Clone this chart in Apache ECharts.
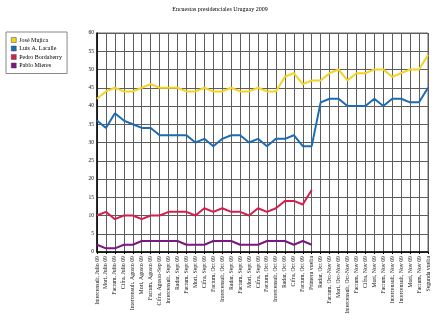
<!DOCTYPE html>
<html><head><meta charset="utf-8">
<script src="https://cdn.jsdelivr.net/npm/echarts@6/dist/echarts.min.js"></script>
<style>html,body{margin:0;padding:0;background:#fff}#c{width:440px;height:323px}</style>
</head><body><div id="c"></div>
<script>
const categories = [
"Intercensult, Julio 09","Mori, Julio 09","Factum, Julio 09","Cifra, Julio 09",
"Intercensult, Agosto 09","Mori, Agosto 09","Factum, Agosto 09","Cifra, Agosto-Sep 09",
"Intercensult, Sept 09","Radar, Sept 09","Factum, Sept 09","Mori, Sept 09","Cifra, Sept 09",
"Factum, Oct 09","Intercensult, Oct 09","Radar, Sept 09","Factum, Sept 09","Mori, Sept 09",
"Cifra, Sept 09","Factum, Oct 09","Intercensult, Oct 09","Radar, Oct 09","Cifra, Oct 09",
"Factum, Oct 09","Primera vuelta","Radar, Oct 09","Factum, Oct-Nov 09","Mori, Oct-Nov 09",
"Intercensult, Oct-Nov 09","Factum, Nov 09","Cifra, Nov 09","Mori, Nov 09","Factum, Nov 09",
"Intercensult, Nov 09","Intercensult, Nov 09","Mori, Nov 09","Factum, Nov 09","Segunda vuelta"
];
const seriesNames = ["José Mujica","Luis A. Lacalle","Pedro Bordaberry","Pablo Mieres"];
const mujica = [42,44,45,44,44,45,46,45,45,45,44,44,45,44,44,45,44,44,45,44,44,48,49,46,47,47,49,50,47,49,49,50,50,48,49,50,50,54];
const lacalle = [36,34,38,36,35,34,34,32,32,32,32,30,31,29,31,32,32,30,31,29,31,31,32,29,29,41,42,42,40,40,40,42,40,42,42,41,41,45];
const bordaberry = [10,11,9,10,10,9,10,10,11,11,11,10,12,11,12,11,11,10,12,11,12,14,14,13,17];
const mieres = [2,1,1,2,2,3,3,3,3,3,2,2,2,3,3,3,2,2,2,3,3,3,2,3,2];
const yTicks = {min:0, max:60, interval:5};
const colors = ["#f7d21e","#1c6cb4","#d3204c","#7c1683"];

const font = "'Liberation Serif','DejaVu Serif',serif";
const chart = echarts.init(document.getElementById('c'), null, {renderer:'canvas'});
const data = [mujica, lacalle, bordaberry, mieres];
chart.setOption({
  animation:false,
  color: colors,
  title:{text:"Encuestas presidenciales Uruguay 2009", left:'center', top:1,
    textStyle:{fontFamily:font, fontSize:6, fontWeight:'normal', color:'#000'}},
  legend:{orient:'vertical', left:6, top:32, padding:[5,5,5,5], itemGap:2.5,
    itemWidth:5, itemHeight:5, icon:'rect',
    borderColor:'#888', borderWidth:1, backgroundColor:'#fff',
    textStyle:{fontFamily:font, fontSize:6, color:'#000', padding:[0,0,0,-2]},
    data: seriesNames.map((n,i)=>({name:n, itemStyle:{color:colors[i], borderColor:'#444', borderWidth:0.5}}))},
  grid:{left:97, right:12, top:33, bottom:71, containLabel:false, show:true, borderColor:'#666', borderWidth:1},
  xAxis:{type:'category', data:categories, boundaryGap:false,
    axisLine:{lineStyle:{color:'#000', width:1.5}},
    axisTick:{show:true, length:2, interval:0, lineStyle:{color:'#000'}},
    axisLabel:{interval:0, rotate:90, fontFamily:font, fontSize:5.8, color:'#111', margin:4},
    splitLine:{show:true, interval:0, lineStyle:{color:'#5e5e5e', width:1}}},
  yAxis:{type:'value', min:yTicks.min, max:yTicks.max, interval:yTicks.interval,
    axisLine:{show:true, lineStyle:{color:'#000', width:1.5}},
    axisTick:{show:false},
    axisLabel:{fontFamily:font, fontSize:5.5, color:'#111', margin:3},
    splitLine:{show:true, lineStyle:{color:'#5e5e5e', width:1}}},
  series: seriesNames.map((n,i)=>({name:n, type:'line', data:data[i], symbol:'none',
    lineStyle:{width:2, color:colors[i]}, itemStyle:{color:colors[i]}}))
});
</script></body></html>
